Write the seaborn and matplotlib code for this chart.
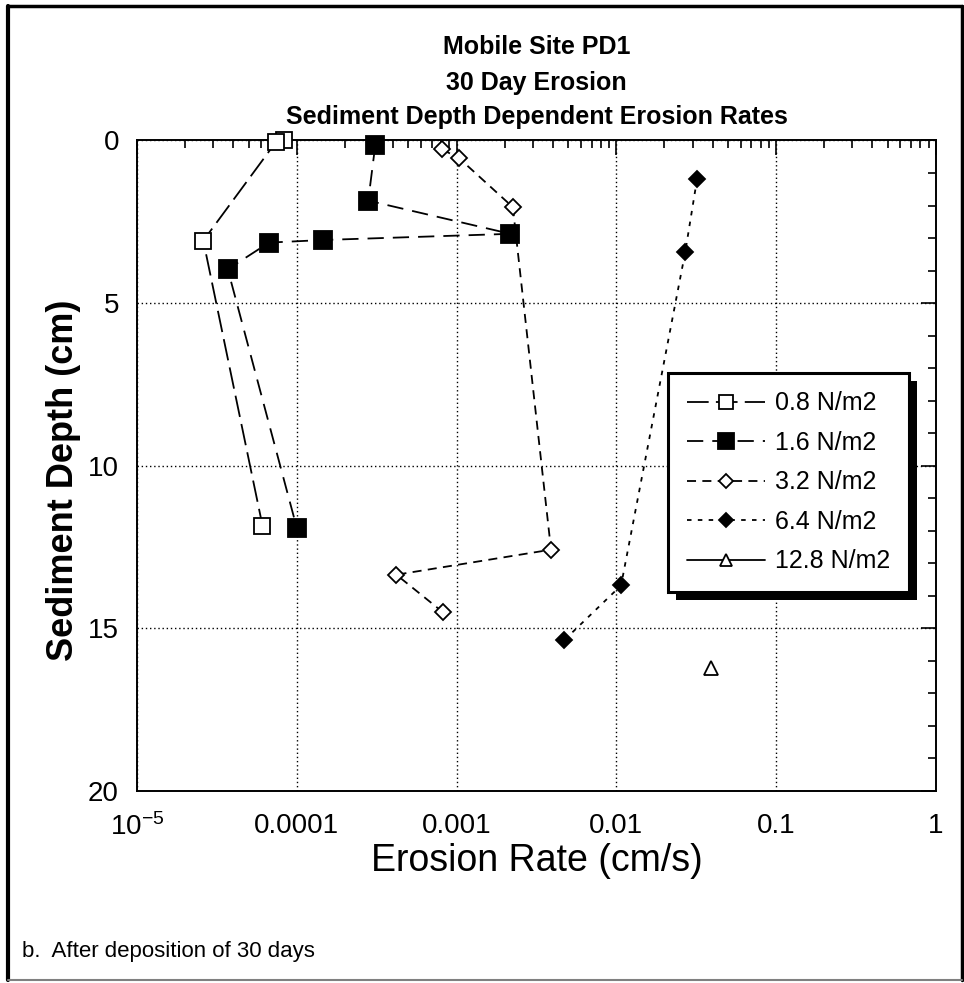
import numpy as np
import pandas as pd
import matplotlib
matplotlib.use('Agg')
import matplotlib.pyplot as plt
import matplotlib.ticker as mticker
from matplotlib.patches import Rectangle
from matplotlib.lines import Line2D
import seaborn as sns

# shear stress levels (legend labels)
labels = ['0.8 N/m2', '1.6 N/m2', '3.2 N/m2', '6.4 N/m2', '12.8 N/m2']

# erosion rate (cm/s) vs sediment depth (cm)
rate_08 = [8.3e-5, 7.4e-5, 2.6e-5, 6.1e-5]
depth_08 = [0.0, 0.05, 3.08, 11.84]

rate_16 = [3.1e-4, 2.8e-4, 2.17e-3, 1.46e-4, 6.7e-5, 3.7e-5, 1.0e-4]
depth_16 = [0.14, 1.85, 2.87, 3.06, 3.14, 3.96, 11.91]

rate_32 = [8.1e-4, 1.04e-3, 2.25e-3, 3.9e-3, 4.2e-4, 8.2e-4]
depth_32 = [0.27, 0.55, 2.05, 12.58, 13.35, 14.5]

rate_64 = [0.032, 0.027, 0.0107, 0.0047]
depth_64 = [1.18, 3.42, 13.68, 15.37]

rate_128 = [0.039]
depth_128 = [16.22]

x_ticks = [1e-5, 1e-4, 1e-3, 1e-2, 1e-1, 1]
x_ticklabels = ['$10^{-5}$', '0.0001', '0.001', '0.01', '0.1', '1']
y_ticks = [0, 5, 10, 15, 20]

sns.set_style('white')
plt.rcParams['font.family'] = ['Liberation Sans', 'DejaVu Sans']
plt.rcParams['text.color'] = 'black'
plt.rcParams['xtick.color'] = 'black'
plt.rcParams['ytick.color'] = 'black'
plt.rcParams['mathtext.fontset'] = 'custom'
plt.rcParams['mathtext.rm'] = 'Liberation Sans'
plt.rcParams['mathtext.it'] = 'Liberation Sans'
plt.rcParams['axes.unicode_minus'] = False

fig = plt.figure(figsize=(9.64, 9.83), dpi=100)
ax = fig.add_axes([0.1421, 0.1953, 0.8288, 0.6618])

# (rates, depths, marker, face colour, marker size, dash pattern)
series = [
    (rate_08, depth_08, 's', 'white', 11, (0, (12, 4))),
    (rate_16, depth_16, 's', 'black', 13, (0, (9, 5))),
    (rate_32, depth_32, 'D', 'white', 8, (0, (5, 3.5))),
    (rate_64, depth_64, 'D', 'black', 8, (0, (2.5, 3.5))),
    (rate_128, depth_128, '^', 'white', 10, '-'),
]

handles = []
for (r, d, mk, fc, ms, ls), lab in zip(series, labels):
    df = pd.DataFrame({'rate': r, 'depth': d})
    sns.lineplot(data=df, x='rate', y='depth', ax=ax, sort=False, estimator=None,
                 color='black', linewidth=1.3, linestyle=ls, marker=mk, markersize=ms,
                 markerfacecolor=fc, markeredgecolor='black', markeredgewidth=1.3,
                 clip_on=False, zorder=3)
    handles.append(Line2D([], [], color='black', linewidth=1.3, linestyle=ls, marker=mk,
                          markersize=ms * 0.9, markerfacecolor=fc, markeredgecolor='black',
                          markeredgewidth=1.3, label=lab))

ax.set_xscale('log')
ax.set_xlim(1e-5, 1)
ax.set_ylim(20, 0)
ax.xaxis.set_major_locator(mticker.FixedLocator(x_ticks))
ax.xaxis.set_major_formatter(mticker.FixedFormatter(x_ticklabels))
ax.xaxis.set_minor_locator(mticker.LogLocator(base=10, subs=np.arange(2, 10), numticks=20))
ax.xaxis.set_minor_formatter(mticker.NullFormatter())
ax.set_yticks(y_ticks)
ax.yaxis.set_minor_locator(mticker.MultipleLocator(1))

ax.tick_params(which='both', direction='in', top=True, right=True, color='black', width=1.2)
ax.tick_params(which='major', length=11, labelsize=20)
ax.tick_params(axis='x', which='major', pad=16)
ax.tick_params(axis='y', which='major', pad=13)
ax.tick_params(which='minor', length=6)
ax.grid(True, which='major', color='black', linestyle=(0, (1, 2)), linewidth=1)
for sp in ax.spines.values():
    sp.set_color('black')
    sp.set_linewidth(1.4)

ax.set_xlabel('')
ax.set_ylabel('')
fig.text(0.5565, 1 - 861 / 983, 'Erosion Rate (cm/s)', ha='center', va='center', fontsize=27)
fig.text(0.066, 1 - 480 / 983, 'Sediment Depth (cm)', ha='center', va='center', rotation=90,
         fontsize=26, fontweight='bold')

for yy, txt in zip([47, 83, 117], ['Mobile Site PD1', '30 Day Erosion',
                                   'Sediment Depth Dependent Erosion Rates']):
    fig.text(0.5565, 1 - yy / 983, txt, ha='center', va='center', fontsize=18,
             fontweight='bold')

fig.text(0.023, 1 - 951 / 983, 'b.  After deposition of 30 days', ha='left', va='center',
         fontsize=16)

leg = ax.legend(handles=handles, loc='upper left', bbox_to_anchor=(0.665, 0.643),
                borderaxespad=0, frameon=True, fancybox=False, framealpha=1,
                edgecolor='black', fontsize=18, handlelength=3.1, labelspacing=0.62,
                borderpad=0.75, handletextpad=0.4)
leg.get_frame().set_linewidth(2.2)
leg.set_zorder(6)

# drop shadow behind the legend box
fig.canvas.draw()
bb = leg.get_window_extent().transformed(fig.transFigure.inverted())
off_x, off_y = 8 / 964, 8 / 983
fig.add_artist(Rectangle((bb.x0 + off_x, bb.y0 - off_y), bb.width, bb.height,
                         transform=fig.transFigure, facecolor='black', edgecolor='none',
                         zorder=2))
ax.set_zorder(3)
ax.patch.set_alpha(0)

# page border
fig.add_artist(Line2D([0.0083, 0.0083], [0.003, 0.994], transform=fig.transFigure,
                      color='black', linewidth=3))
fig.add_artist(Line2D([0.0083, 0.998], [0.994, 0.994], transform=fig.transFigure,
                      color='black', linewidth=2.5))
fig.add_artist(Line2D([0.998, 0.998], [0.003, 0.994], transform=fig.transFigure,
                      color='black', linewidth=2.5))
fig.add_artist(Line2D([0.0083, 0.998], [0.003, 0.003], transform=fig.transFigure,
                      color='gray', linewidth=1.5))

fig.savefig('out.png', dpi=100, facecolor='white')
